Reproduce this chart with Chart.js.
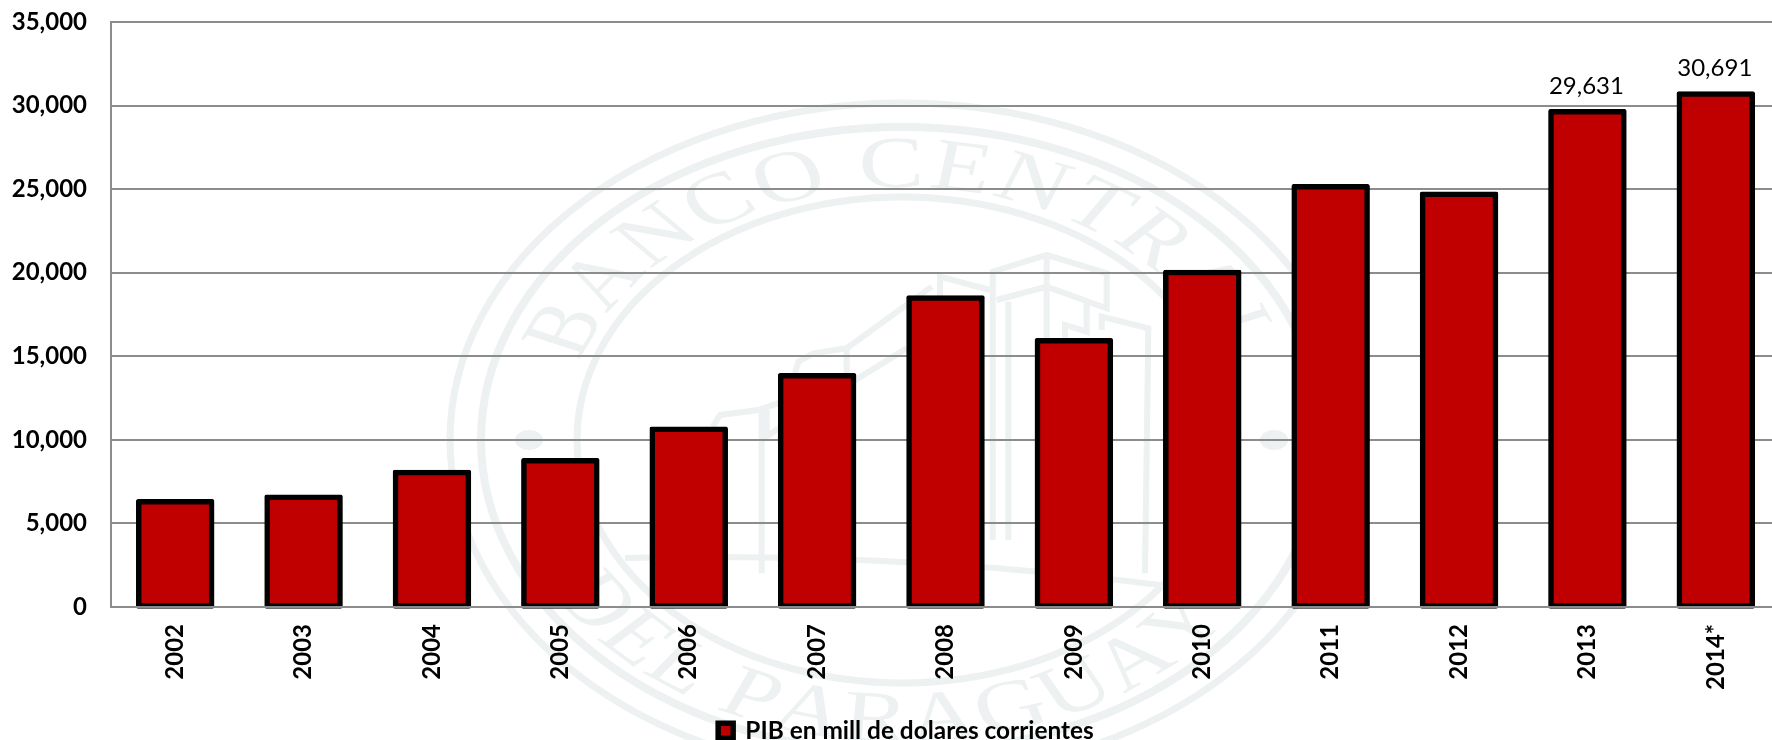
<!DOCTYPE html>
<html>
<head>
<meta charset="utf-8">
<style>
html,body{margin:0;padding:0;background:#fff;width:1772px;height:740px;overflow:hidden}
#wrap{width:1772px;height:740px;overflow:hidden;position:relative}
canvas{display:block}
</style>
<script src="https://cdn.jsdelivr.net/npm/chart.js@4/dist/chart.umd.min.js"></script>
</head>
<body>
<div id="wrap"><canvas id="c" width="1810" height="740"></canvas></div>
<script>
const categories = ['2002','2003','2004','2005','2006','2007','2008','2009','2010','2011','2012','2013','2014*'];
const pibValues = [6294,6570,8050,8747,10640,13830,18480,15925,20015,25140,24700,29631,30691];
const seriesName = 'PIB en mill de dolares corrientes';
const labelledYears = ['2013','2014*'];
const sealTop = 'BANCO CENTRAL';
const sealBottom = 'DEL PARAGUAY';
const INK = '#000000', RED = '#C00000', GRID = '#8C8C8C', SEAL = '#EDF1F1';
const FONT = 'Lato, "Noto Sans", sans-serif';

function arcText(ctx, text, radius, halfAngle, bottom, offset){
  const chars = [...text];
  const widths = chars.map(ch => ctx.measureText(ch).width);
  const total = widths.reduce((a,b)=>a+b,0);
  const k = 2*halfAngle/total;
  let a = -halfAngle;
  chars.forEach((ch,i)=>{
    const mid = a + widths[i]*k/2 + offset;
    ctx.save();
    if(bottom){ ctx.rotate(-mid); ctx.translate(0, radius); }
    else { ctx.rotate(mid); ctx.translate(0, -radius); }
    ctx.fillText(ch, 0, 0);
    ctx.restore();
    a += widths[i]*k;
  });
}

const legendShiftPlugin = {
  id:'legendShift',
  afterLayout(chart){
    chart.legend.left += 16;
    chart.legend.right += 16;
  }
};

const sealPlugin = {
  id:'seal',
  beforeDraw(chart){
    const ctx = chart.ctx;
    ctx.save();
    ctx.fillStyle='#fff';
    ctx.fillRect(0,0,chart.width,chart.height);
    const cx=902, cy=440, deg=Math.PI/180;
    ctx.strokeStyle=SEAL; ctx.fillStyle=SEAL;
    [[452,337,7],[421,313,8],[325,243,7]].forEach(([rx,ry,w])=>{
      ctx.lineWidth=w;
      ctx.beginPath(); ctx.ellipse(cx,cy,rx,ry,0,0,Math.PI*2); ctx.stroke();
    });
    [[529,440],[1274,440]].forEach(([x,y])=>{
      ctx.beginPath(); ctx.ellipse(x,y,14,10,0,0,Math.PI*2); ctx.fill();
    });
    ctx.save();
    ctx.translate(cx,cy); ctx.scale(1.34,1);
    ctx.font='73px "Liberation Serif", serif';
    ctx.textAlign='center'; ctx.textBaseline='alphabetic';
    arcText(ctx, sealTop, 253, 72*deg, false, 0);
    arcText(ctx, sealBottom, 302, 57*deg, true, -3*deg);
    ctx.restore();
    ctx.lineWidth=6; ctx.lineJoin='miter';
    const z=(x,y)=>[700+x/3,240+y/3];
    const paths=[
      [[878,900],[878,95],[1040,45],[1220,100],[1220,205],[1040,140],[890,180]],
      [[1040,45],[1040,330]],
      [[925,185],[925,900]],
      [[720,170],[720,110],[870,150]],
      [[695,140],[440,325],[440,400]],
      [[620,325],[450,430]],
      [[440,325],[340,340],[295,365],[285,400]],
      [[430,420],[175,510],[60,525],[38,560]],
      [[185,510],[185,1000]],
      [[200,510],[200,590],[235,565]],
      [[1160,190],[1160,275],[1095,255],[1095,300]],
      [[1205,270],[1205,230],[1345,265],[1335,1000]]
    ];
    paths.forEach(p=>{
      ctx.beginPath();
      p.forEach((pt,i)=>{const [x,y]=z(pt[0],pt[1]); i?ctx.lineTo(x,y):ctx.moveTo(x,y);});
      ctx.stroke();
    });
    ctx.beginPath(); ctx.moveTo(625,558); ctx.quadraticCurveTo(900,552,1160,585); ctx.stroke();
    ctx.restore();
  }
};

const valueLabelPlugin = {
  id:'valueLabels',
  afterDatasetsDraw(chart){
    const ctx=chart.ctx, meta=chart.getDatasetMeta(0);
    ctx.save();
    ctx.font='400 24px '+FONT;
    ctx.fillStyle=INK; ctx.textAlign='center'; ctx.textBaseline='alphabetic';
    meta.data.forEach((bar,i)=>{
      if(!labelledYears.includes(categories[i])) return;
      ctx.fillText(pibValues[i].toLocaleString('en-US'), bar.x-1, bar.y-18);
    });
    ctx.restore();
  }
};

new Chart(document.getElementById('c'),{
  type:'bar',
  data:{labels:categories,datasets:[{
    label:seriesName,
    data:pibValues,
    backgroundColor:RED,
    borderColor:INK,
    borderWidth:5.5,
    borderSkipped:false,
    borderRadius:2,
    inflateAmount:2.75,
    barPercentage:0.5685,
    categoryPercentage:1,
    clip:false
  }]},
  options:{
    responsive:false,
    animation:false,
    devicePixelRatio:1,
    layout:{padding:{top:22,right:30,left:0,bottom:-13}},
    plugins:{
      tooltip:{enabled:false},
      legend:{
        position:'bottom',
        onClick:null,
        labels:{color:INK,font:{family:FONT,size:24.4,weight:'700'},boxWidth:15,boxHeight:15,padding:0}
      }
    },
    scales:{
      x:{
        grid:{display:false,drawTicks:false},
        border:{color:GRID,width:2,z:1},
        ticks:{color:INK,font:{family:FONT,size:24,weight:'700'},minRotation:90,maxRotation:90,padding:17,autoSkip:false},
        afterFit(s){ s.height=111.6; s.paddingLeft=0; s.paddingRight=0; }
      },
      y:{
        min:0,max:35000,
        grid:{color:GRID,lineWidth:2,drawTicks:false},
        border:{color:GRID,width:2},
        ticks:{stepSize:5000,color:INK,font:{family:FONT,size:24,weight:'700'},padding:24,
          callback:v=>v.toLocaleString('en-US')},
        afterFit(s){ s.width=111; s.paddingTop=0; s.paddingBottom=0; }
      }
    }
  },
  plugins:[legendShiftPlugin,sealPlugin,valueLabelPlugin]
});
</script>
</body>
</html>
